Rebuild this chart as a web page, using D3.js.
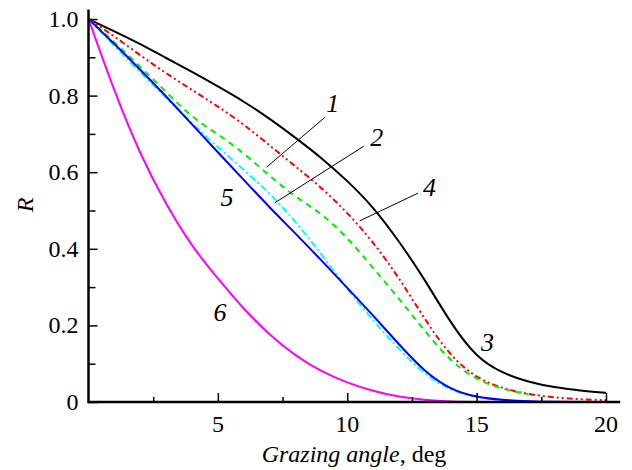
<!DOCTYPE html>
<html>
<head>
<script src="https://cdn.jsdelivr.net/npm/d3@7/dist/d3.min.js"></script>
</head>
<body style="margin:0">
<div id="probe"></div>
<script>
    var serif = "'Liberation Serif'";

    // grazing angle, deg
    var angles = [0, 1, 2, 3, 4, 5, 6, 7, 8, 9, 10, 11, 12, 13, 14, 15, 16, 17, 18, 19, 20];

    // reflection coefficient R for every curve
    var curve1 = [1.0, 0.94, 0.875, 0.81, 0.742, 0.70, 0.65, 0.59, 0.535, 0.493, 0.43, 0.35, 0.27, 0.185, 0.105, 0.058, 0.033, 0.02];
    var curve2 = [1.0, 0.93, 0.86, 0.795, 0.727, 0.665, 0.607, 0.545, 0.472, 0.386, 0.295, 0.212, 0.138, 0.07, 0.03, 0.012, 0.004, 0.001, 0, 0, 0];
    var curve3 = [1.0, 0.968, 0.935, 0.898, 0.862, 0.824, 0.785, 0.74, 0.69, 0.638, 0.578, 0.51, 0.42, 0.32, 0.205, 0.115, 0.075, 0.052, 0.038, 0.03, 0.024];
    var curve4 = [1.0, 0.955, 0.905, 0.858, 0.815, 0.772, 0.725, 0.67, 0.615, 0.56, 0.495, 0.418, 0.325, 0.215, 0.118, 0.062, 0.035, 0.02, 0.012, 0.007, 0.005];
    var curve5 = [1.0, 0.935, 0.868, 0.798, 0.725, 0.652, 0.58, 0.508, 0.44, 0.37, 0.298, 0.226, 0.15, 0.078, 0.032, 0.012, 0.005, 0.002, 0, 0, 0];
    var curve6 = [1.0, 0.81, 0.645, 0.515, 0.405, 0.322, 0.242, 0.175, 0.12, 0.079, 0.05, 0.028, 0.013, 0.005, 0.001, 0, 0, 0, 0, 0, 0];

    var xMajor = [5, 10, 15, 20];
    var xMinor = [2.5, 7.5, 12.5, 17.5];
    var yMajor = [0, 0.2, 0.4, 0.6, 0.8, 1.0];
    var yMinor = [0.1, 0.3, 0.5, 0.7, 0.9];
    var yLabels = ["0", "0.2", "0.4", "0.6", "0.8", "1.0"];

    // curve number labels and leader lines, in data units
    var labelNames = ["1", "2", "3", "4", "5", "6"];
    var labelPos = [[9.44, 0.781], [11.14, 0.692], [15.42, 0.157], [13.18, 0.561], [5.35, 0.535], [5.08, 0.235]];
    var leaders = [[[9.13, 0.743], [6.88, 0.613]], [[10.64, 0.668], [7.2, 0.52]], [[12.73, 0.545], [10.48, 0.473]]];

    var series = [
        { values: curve3, color: "#000000", dash: null },
        { values: curve4, color: "#ff0000", dash: "6,3,2,3,2,3" },
        { values: curve1, color: "#00ee00", dash: "6,5" },
        { values: curve2, color: "#00ffff", dash: "7,3,2,3" },
        { values: curve5, color: "#0000ff", dash: null },
        { values: curve6, color: "#ff00ff", dash: null }
    ];

    var x = d3.scaleLinear().domain([0, 20]).range([88.5, 606]);
    var y = d3.scaleLinear().domain([0, 1]).range([402, 19]);

    var svg = d3.select("#probe").append("svg").attr("width", 632).attr("height", 470);

    // curves
    var line = d3.line()
        .x(function(d) { return x(d[0]); })
        .y(function(d) { return y(d[1]); })
        .curve(d3.curveBasis);

    series.forEach(function(s) {
        var pts = s.values.map(function(v, i) { return [angles[i], v]; });
        svg.append("path")
            .datum(pts)
            .attr("d", line)
            .attr("fill", "none")
            .attr("stroke", s.color)
            .attr("stroke-width", 2)
            .attr("stroke-dasharray", s.dash);
    });

    // ticks point inward; lines only, labels are plain text below
    var xAxis = svg.append("g")
        .attr("transform", "translate(0," + y(0) + ")")
        .call(d3.axisBottom(x).tickValues(xMajor).tickSizeInner(-9).tickSizeOuter(0).tickFormat(""));
    xAxis.append("g")
        .call(d3.axisBottom(x).tickValues(xMinor).tickSizeInner(-5).tickSizeOuter(0).tickFormat(""));

    var yAxis = svg.append("g")
        .attr("transform", "translate(" + x(0) + ",0)")
        .call(d3.axisLeft(y).tickValues(yMajor).tickSizeInner(-9).tickSizeOuter(0).tickFormat(""));
    yAxis.append("g")
        .call(d3.axisLeft(y).tickValues(yMinor).tickSizeInner(-7).tickSizeOuter(0).tickFormat(""));

    svg.selectAll(".domain").remove();
    svg.selectAll(".tick text").remove();
    svg.selectAll(".tick line").attr("stroke", "#000").attr("stroke-width", 1.5);

    // axis lines run a bit past the data range
    svg.append("line")
        .attr("x1", x(0)).attr("x2", x(20.55))
        .attr("y1", y(0)).attr("y2", y(0))
        .attr("stroke", "#000").attr("stroke-width", 2.5);
    svg.append("line")
        .attr("x1", x(0)).attr("x2", x(0))
        .attr("y1", y(0) + 1.2).attr("y2", y(1.025))
        .attr("stroke", "#000").attr("stroke-width", 2.5);

    // tick labels
    xMajor.forEach(function(v) {
        svg.append("text")
            .style("font-family", serif).style("font-size", "24px")
            .attr("x", x(v)).attr("y", y(0) + 30)
            .attr("text-anchor", "middle")
            .text(v);
    });
    yMajor.forEach(function(v, i) {
        svg.append("text")
            .style("font-family", serif).style("font-size", "24px")
            .attr("x", x(0) - 10).attr("y", y(v) + 8)
            .attr("text-anchor", "end")
            .text(yLabels[i]);
    });

    // axis titles
    var xt = svg.append("text")
        .style("font-family", serif).style("font-size", "24px")
        .attr("x", 354).attr("y", 462)
        .attr("text-anchor", "middle");
    xt.append("tspan").style("font-style", "italic").text("Grazing angle");
    xt.append("tspan").text(", deg");

    svg.append("text")
        .style("font-family", serif).style("font-size", "24px")
        .style("font-style", "italic")
        .attr("transform", "translate(33,205) rotate(-90)")
        .attr("text-anchor", "middle")
        .text("R");

    // leader lines
    leaders.forEach(function(l) {
        svg.append("line")
            .attr("x1", x(l[0][0])).attr("y1", y(l[0][1]))
            .attr("x2", x(l[1][0])).attr("y2", y(l[1][1]))
            .attr("stroke", "#000").attr("stroke-width", 1);
    });

    // curve numbers
    labelNames.forEach(function(n, i) {
        svg.append("text")
            .style("font-family", serif).style("font-size", "26px")
            .style("font-style", "italic")
            .attr("x", x(labelPos[i][0]))
            .attr("y", y(labelPos[i][1]) + 9)
            .attr("text-anchor", "middle")
            .text(n);
    });
</script>
</body>
</html>
